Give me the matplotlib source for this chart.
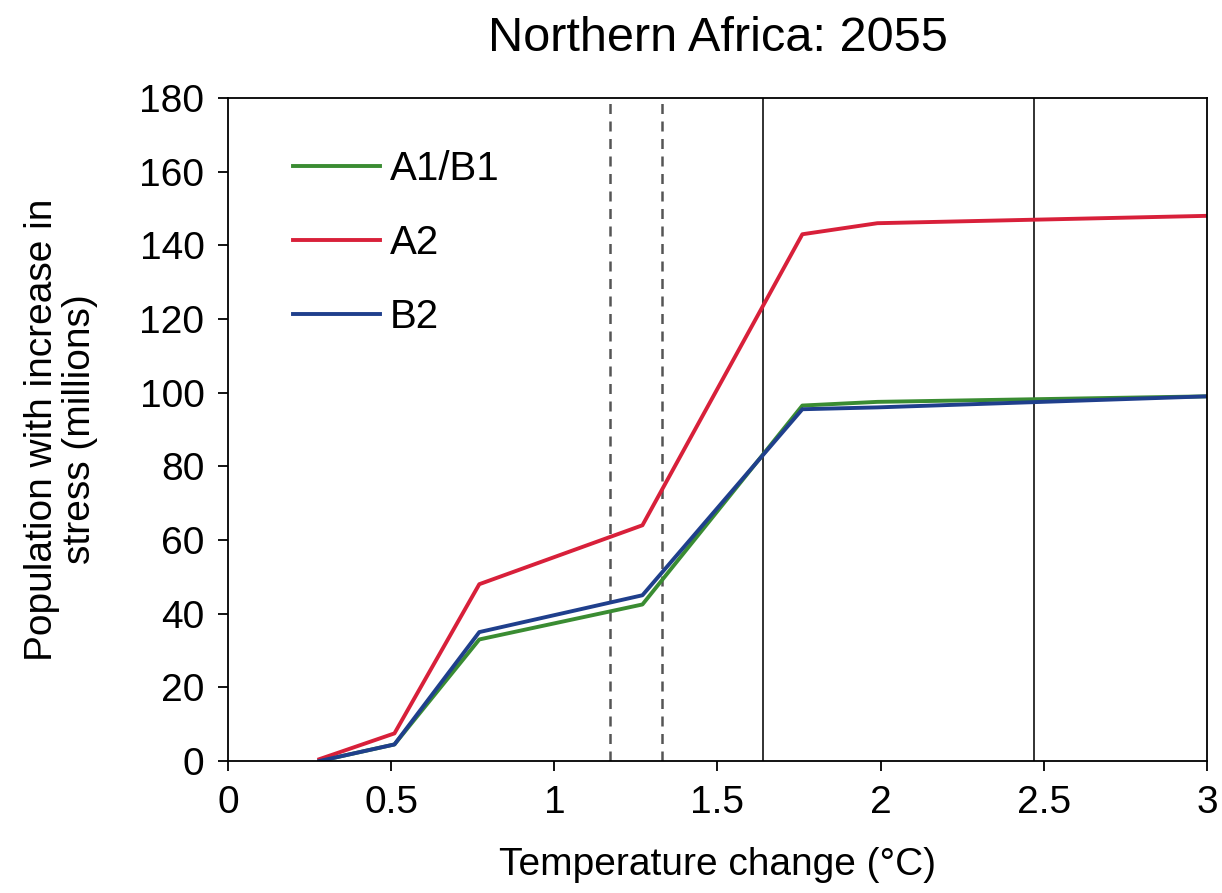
import matplotlib.pyplot as plt

temp = [0.28, 0.51, 0.77, 1.27, 1.76, 1.99, 3.0]
a1b1 = [0.0, 4.5, 33.0, 42.5, 96.5, 97.5, 99.0]
a2 = [0.5, 7.5, 48.0, 64.0, 143.0, 146.0, 148.0]
b2 = [0.0, 4.5, 35.0, 45.0, 95.5, 96.0, 99.0]

dashed_x = [1.17, 1.33]
solid_x = [1.64, 2.47]

xticks = [0, 0.5, 1, 1.5, 2, 2.5, 3]
xtick_labels = ["0", "0.5", "1", "1.5", "2", "2.5", "3"]
yticks = list(range(0, 181, 20))

plt.rcParams["font.family"] = ["Liberation Sans", "DejaVu Sans"]

fig = plt.figure(figsize=(12.22, 8.93), dpi=100)
ax = fig.add_axes([0.1866, 0.1478, 0.8011, 0.7425])

for x in dashed_x:
    ax.axvline(x, color="#555555", linestyle=(0, (4, 3)), linewidth=1.8)
for x in solid_x:
    ax.axvline(x, color="#222222", linewidth=1.3)

ax.plot(temp, a1b1, color="#3a8c32", linewidth=2.8, label="A1/B1")
ax.plot(temp, a2, color="#d8203a", linewidth=2.8, label="A2")
ax.plot(temp, b2, color="#1f3f8c", linewidth=2.8, label="B2")

ax.set_xlim(0, 3)
ax.set_ylim(0, 180)
ax.set_xticks(xticks)
ax.set_xticklabels(xtick_labels)
ax.set_yticks(yticks)
ax.tick_params(direction="out", length=7, width=1.3, labelsize=28, pad=10)
for s in ax.spines.values():
    s.set_linewidth(1.3)

ax.set_title("Northern Africa: 2055", fontsize=35, pad=34)
ax.set_xlabel("Temperature change (°C)", fontsize=28, labelpad=19)
ax.set_ylabel("Population with increase in\nstress (millions)", fontsize=28,
              labelpad=30, linespacing=1.05)

ax.legend(loc="upper left", bbox_to_anchor=(0.05, 0.946), borderaxespad=0,
          frameon=False, fontsize=29, handlelength=2.15, labelspacing=0.9,
          handletextpad=0.25)

fig.savefig("out.png", dpi=100)
